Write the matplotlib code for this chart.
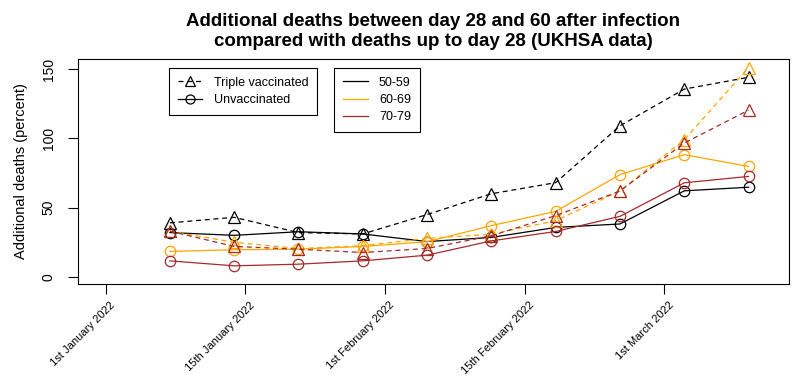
import matplotlib
matplotlib.use('Agg')
import matplotlib.pyplot as plt
import matplotlib.transforms as mtransforms
from matplotlib.lines import Line2D

plt.rcParams['font.family'] = ['Liberation Sans', 'DejaVu Sans']

# semanas (dias desde el 1 de enero de 2022)
dias = [7, 14, 21, 28, 35, 42, 49, 56, 63, 70]

# ticks del eje x cada medio mes (en dias)
ticks_x = [0, 365 / 24, 2 * 365 / 24, 3 * 365 / 24, 4 * 365 / 24]
etiquetas_x = ['1st January 2022', '15th January 2022', '1st February 2022',
               '15th February 2022', '1st March 2022']

# porcentaje de muertes adicionales
triple_50_59 = [39, 43, 32, 31, 45, 60, 68, 109, 135.5, 144]
triple_60_69 = [33, 25, 20.5, 22.5, 27.8, 30.8, 40.6, 62, 99, 151]
triple_70_79 = [33, 22, 20, 17.6, 20.5, 29.7, 44.2, 62, 96.6, 120.3]
novac_50_59 = [32, 30, 32.6, 31, 25.5, 28.5, 35.7, 38.2, 62.1, 64.7]
novac_60_69 = [18.4, 19.6, 20, 22, 25.4, 37, 47.3, 73.8, 88.2, 79.7]
novac_70_79 = [11.6, 8, 9.2, 11.6, 15.7, 26, 32.8, 43.7, 67.9, 72.5]

grupos = ['50-59', '60-69', '70-79']
colores = ['black', 'orange', 'brown']

fig = plt.figure(figsize=(8.1, 3.82), dpi=100)
ax = fig.add_axes([78 / 810, 1 - 284 / 382, (789 - 78) / 810, (284 - 59) / 382])

series_triple = [triple_50_59, triple_60_69, triple_70_79]
series_novac = [novac_50_59, novac_60_69, novac_70_79]

for col, tri, nov in zip(colores, series_triple, series_novac):
    ax.plot(dias, tri, color=col, lw=0.9, dashes=(4, 3), marker='^',
            markersize=8, mfc='none', mec=col, mew=0.9)
    ax.plot(dias, nov, color=col, lw=0.9, marker='o',
            markersize=7.5, mfc='none', mec=col, mew=0.9)

ax.set_xlim(-3, 74.4)
ax.set_ylim(-5.1, 157.2)
ax.set_yticks([0, 50, 100, 150])
ax.set_yticklabels(['0', '50', '100', '150'], rotation=90, va='center', fontsize=10)
ax.set_xticks(ticks_x)
ax.set_xticklabels(etiquetas_x, rotation=45, ha='right', va='center',
                   rotation_mode='anchor', fontsize=8)
ax.tick_params(axis='y', length=7, width=0.8, pad=9)
ax.tick_params(axis='x', length=7, width=0.8, pad=7)
desplaza = mtransforms.ScaledTranslation(8 / 100, 0, fig.dpi_scale_trans)
for lbl in ax.get_xticklabels():
    lbl.set_transform(lbl.get_transform() + desplaza)

for s in ax.spines.values():
    s.set_linewidth(0.8)

ax.set_ylabel('Additional deaths (percent)', fontsize=10.5, labelpad=10)

fig.text(433.5 / 810, 1 - 31.5 / 382,
         'Additional deaths between day 28 and 60 after infection\n'
         'compared with deaths up to day 28 (UKHSA data)',
         ha='center', va='center', fontsize=13.5, fontweight='bold', linespacing=1.25)

# leyenda de tipo de vacunacion
h1 = [Line2D([], [], color='black', lw=0.9, dashes=(4, 3), marker='^', markersize=7,
             mfc='none', mew=0.9),
      Line2D([], [], color='black', lw=0.9, marker='o', markersize=6.5,
             mfc='none', mew=0.9)]
leg1 = ax.legend(h1, ['Triple vaccinated', 'Unvaccinated'], loc='upper left',
                 bbox_to_anchor=((169 - 78) / 711, 1 - (68 - 59) / 225),
                 fontsize=9, fancybox=False, edgecolor='black', framealpha=1,
                 handlelength=1.9, handletextpad=1.0, borderpad=0.7, labelspacing=0.42,
                 borderaxespad=0)
leg1.get_frame().set_linewidth(0.8)
ax.add_artist(leg1)

# leyenda de grupos de edad
h2 = [Line2D([], [], color=c, lw=0.9) for c in colores]
leg2 = ax.legend(h2, grupos, loc='upper left',
                 bbox_to_anchor=((334 - 78) / 711, 1 - (68 - 59) / 225),
                 fontsize=9, fancybox=False, edgecolor='black', framealpha=1,
                 handlelength=2.0, handletextpad=0.9, borderpad=0.7, labelspacing=0.42,
                 borderaxespad=0)
leg2.get_frame().set_linewidth(0.8)

fig.savefig('out.png', dpi=100, facecolor='white')
